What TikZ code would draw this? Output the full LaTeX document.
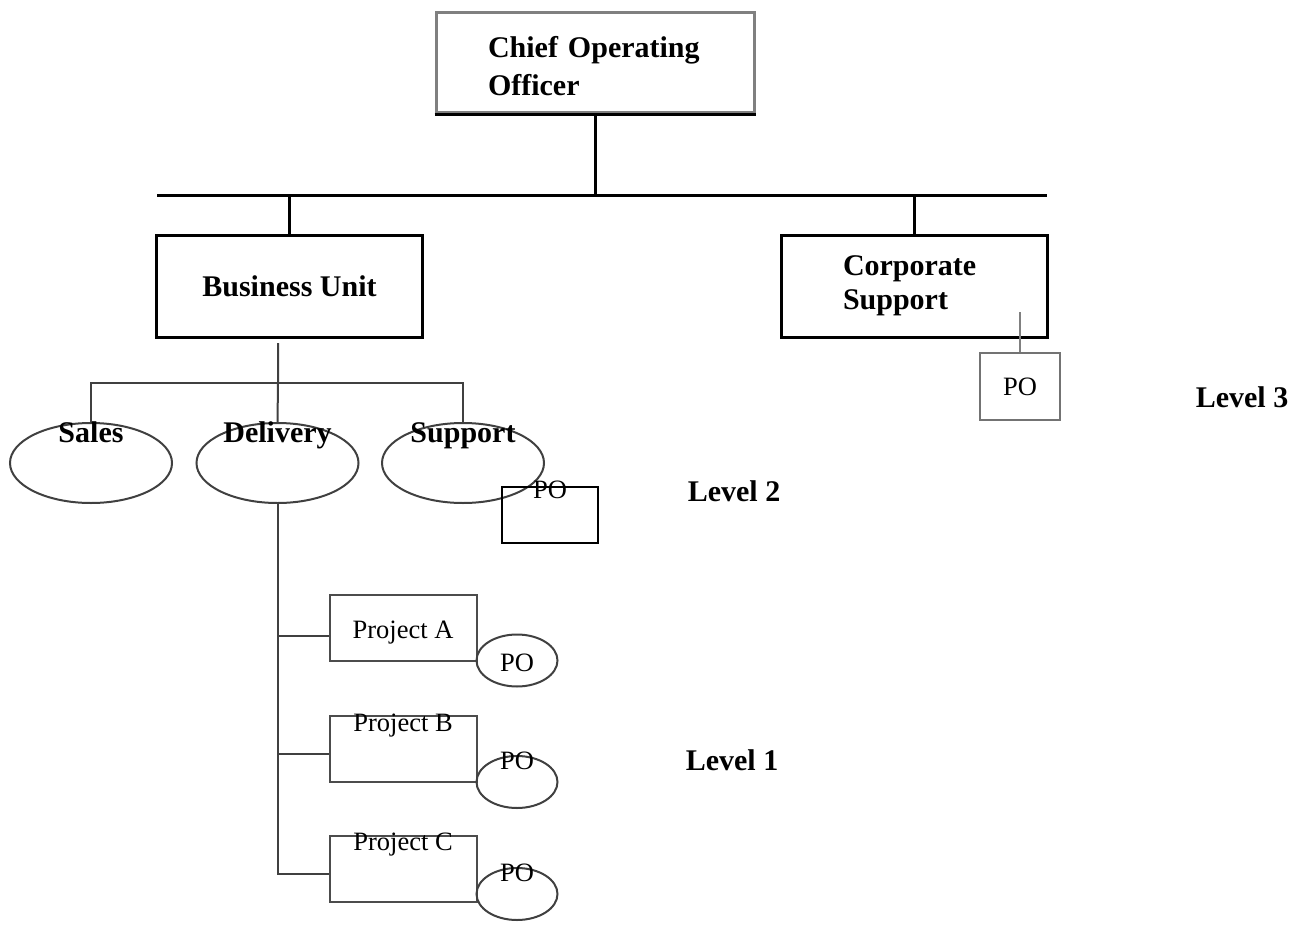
\documentclass[tikz,border=0pt]{standalone}
\usepackage{fontspec}
\setmainfont{Liberation Serif}
\usetikzlibrary{shapes.geometric}

\begin{document}
\begin{tikzpicture}[x=1pt, y=-1pt,
		big/.style={font=\bfseries\fontsize{30}{34}\selectfont},
		small/.style={font=\fontsize{26.5}{30}\selectfont},
		box/.style={draw, line width=3pt, minimum width=266pt, minimum height=102pt, big},
		unit/.style={ellipse, draw=black!75, line width=2pt, minimum width=162pt, minimum height=80pt},
		proj/.style={draw=black!70, line width=2pt, minimum width=147pt, minimum height=66pt},
		po/.style={ellipse, draw=black!75, line width=2pt, minimum width=81pt, minimum height=52pt},
		link/.style={draw=black!75, line width=2pt}]
	\useasboundingbox (0, 0) rectangle (1295, 928);
	% level 3
	\node[draw=black!50, line width=3pt, minimum width=318pt, minimum height=100pt, align=left, text width=214pt, font=\bfseries\fontsize{30}{38}\selectfont] (coo) at (595, 63) {\rule{0pt}{28pt}Chief Operating\\Officer};
	\draw[line width=3pt] (coo.south west) -- (coo.south east);
	\node[box] (bu) at (289.5, 286) {Business Unit};
	\node[box, align=left, text width=142pt] (cs) at (914, 286) {Corporate\\Support};
	\coordinate (barl) at (157, 196);
	\coordinate (barr) at (1047, 196);
	\draw[line width=3pt] (barl) -- (barr);
	\draw[line width=3pt] (coo.south) -- (coo.south |- barl);
	\foreach \n in {bu, cs}
		\draw[line width=3pt] (\n.north) -- (\n.north |- barl);
	\node[draw=black!55, line width=2pt, minimum width=80pt, minimum height=67pt, small] (cspo) at (1020, 386.5) {PO};
	\draw[link, black!50] (cspo.north) -- ++(0, -40);
	\node[big] (lv3) at (1242, 397) {Level 3};
	% level 2
	\foreach \n/\x/\t in {sales/91/Sales, del/277.5/Delivery, sup/463/Support}
		\node[unit, label={[big, anchor=base, yshift=-20pt]north:\t}] (\n) at (\x, 463) {};
	\coordinate (buout) at (278, 343);
	\coordinate (fork) at (278, 383);
	\draw[link] (buout) -- (fork) -- (del.north);
	\draw[link] (sales.north) |- (fork) -| (sup.north);
	\node[draw, line width=2.5pt, minimum width=96pt, minimum height=56pt, label={[small, anchor=base, yshift=-13pt]north:PO}] (suppo) at (550, 515) {};
	\node[big] (lv2) at (734, 491) {Level 2};
	% level 1
	\foreach \n/\y/\t/\s in {pa/628/A/-44pt, pb/748.5/B/-17pt, pc/868.5/C/-16pt}
		\node[proj, label={[small, anchor=base, yshift=\s]north:Project \t}] (\n) at (403, \y) {};
	\foreach \n/\y/\s in {poa/660.5/-38pt, pob/782/-14pt, poc/894/-14pt}
		\node[po, label={[small, anchor=base, yshift=\s]north:PO}] (\n) at (517, \y) {};
	\draw[link] (del.south) |- ([yshift=-5.5pt]pc.west);
	\foreach \n/\s in {pa/-8pt, pb/-5.5pt}
		\draw[link] ([yshift=\s]\n.west) -- ++(-52, 0);
	\node[big] (lv1) at (732, 760) {Level 1};
\end{tikzpicture}
\end{document}
